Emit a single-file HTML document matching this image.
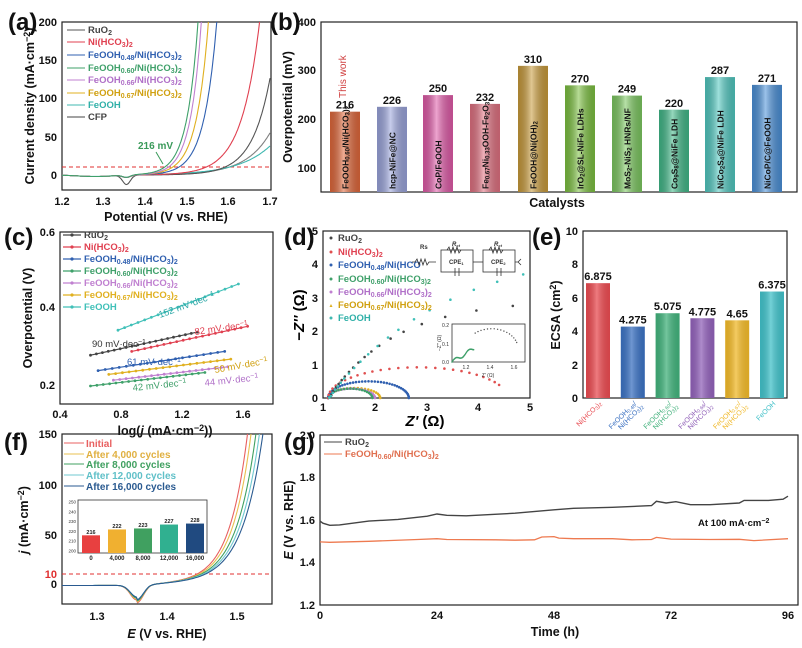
<!DOCTYPE html>
<html><head><meta charset="utf-8">
<style>
html,body{margin:0;padding:0;background:#fff}
svg{display:block;font-family:"Liberation Sans",Arial,sans-serif;font-weight:bold}
.t{font-size:11px;fill:#111}
.lg{font-size:9.5px}
.pl{font-size:24px;fill:#111}
.ax{font-size:12.5px;fill:#111}
</style></head><body>
<svg id="s" width="802" height="648" viewBox="0 0 802 648">
<defs>
<linearGradient id="sh" x1="0" x2="1" y1="0" y2="0">
<stop offset="0" stop-color="#000" stop-opacity="0.15"/><stop offset="0.45" stop-color="#fff" stop-opacity="0.45"/><stop offset="1" stop-color="#000" stop-opacity="0.15"/></linearGradient>
<clipPath id="ca"><rect x="62" y="22" width="209" height="168"/></clipPath>
<clipPath id="cf"><rect x="62" y="434" width="210" height="170"/></clipPath>
</defs>
<!-- panel labels -->
<text class="pl" x="8" y="30">(a)</text>
<text class="pl" x="270" y="30">(b)</text>
<text class="pl" x="4" y="245">(c)</text>
<text class="pl" x="284" y="245">(d)</text>
<text class="pl" x="532" y="245">(e)</text>
<text class="pl" x="4" y="450">(f)</text>
<text class="pl" x="284" y="450">(g)</text>

<!-- (a) -->
<rect x="62" y="22" width="209" height="168" fill="none" stroke="#222" stroke-width="1.2"/>
<g class="t" text-anchor="end"><text x="57" y="26">200</text><text x="57" y="64">150</text><text x="57" y="102">100</text><text x="57" y="141">50</text><text x="57" y="179">0</text></g>
<g class="t" text-anchor="middle"><text x="62" y="205">1.2</text><text x="103" y="205">1.3</text><text x="145" y="205">1.4</text><text x="187" y="205">1.5</text><text x="228" y="205">1.6</text><text x="270" y="205">1.7</text></g>
<text class="ax" x="166" y="221" text-anchor="middle">Potential (V vs. RHE)</text>
<text class="ax" transform="translate(34,106) rotate(-90)" text-anchor="middle">Current density (mA·cm<tspan dy="-4" font-size="9">−2</tspan><tspan dy="4">)</tspan></text>
<line x1="62" y1="167" x2="271" y2="167" stroke="#e03030" stroke-dasharray="4,3" stroke-width="1"/>
<text x="138" y="149" font-size="10" fill="#3a9a5a">216 mV</text>
<line x1="156" y1="152" x2="163" y2="164" stroke="#3a9a5a" stroke-width="1"/>
<g id="ga" clip-path="url(#ca)"></g>
<g class="lg">
<line x1="67" y1="30" x2="85" y2="30" stroke="#555"/><text x="88" y="33" fill="#444">RuO<tspan font-size="7" dy="2">2</tspan></text>
<line x1="67" y1="42" x2="85" y2="42" stroke="#e04050"/><text x="88" y="45" fill="#e04050">Ni(HCO<tspan font-size="7" dy="2">3</tspan><tspan dy="-2">)</tspan><tspan font-size="7" dy="2">2</tspan></text>
<line x1="67" y1="55" x2="85" y2="55" stroke="#3060b0"/><text x="88" y="58" fill="#3060b0">FeOOH<tspan font-size="7" dy="2">0.48</tspan><tspan dy="-2">/Ni(HCO</tspan><tspan font-size="7" dy="2">3</tspan><tspan dy="-2">)</tspan><tspan font-size="7" dy="2">2</tspan></text>
<line x1="67" y1="68" x2="85" y2="68" stroke="#3fa06a"/><text x="88" y="71" fill="#3fa06a">FeOOH<tspan font-size="7" dy="2">0.60</tspan><tspan dy="-2">/Ni(HCO</tspan><tspan font-size="7" dy="2">3</tspan><tspan dy="-2">)</tspan><tspan font-size="7" dy="2">2</tspan></text>
<line x1="67" y1="80" x2="85" y2="80" stroke="#c080d0"/><text x="88" y="83" fill="#b070c8">FeOOH<tspan font-size="7" dy="2">0.66</tspan><tspan dy="-2">/Ni(HCO</tspan><tspan font-size="7" dy="2">3</tspan><tspan dy="-2">)</tspan><tspan font-size="7" dy="2">2</tspan></text>
<line x1="67" y1="93" x2="85" y2="93" stroke="#e0b020"/><text x="88" y="96" fill="#d0a010">FeOOH<tspan font-size="7" dy="2">0.67</tspan><tspan dy="-2">/Ni(HCO</tspan><tspan font-size="7" dy="2">3</tspan><tspan dy="-2">)</tspan><tspan font-size="7" dy="2">2</tspan></text>
<line x1="67" y1="105" x2="85" y2="105" stroke="#40b8b0"/><text x="88" y="108" fill="#30b0a8">FeOOH</text>
<line x1="67" y1="117" x2="85" y2="117" stroke="#444"/><text x="88" y="120" fill="#444">CFP</text>
</g>

<!-- (b) -->
<rect x="321" y="22" width="476" height="170" fill="none" stroke="#222" stroke-width="1.2"/>
<g class="t" text-anchor="end"><text x="316" y="26">400</text><text x="316" y="74">300</text><text x="316" y="123">200</text><text x="316" y="172">100</text></g>
<text class="ax" transform="translate(292,107) rotate(-90)" text-anchor="middle">Overpotential (mV)</text>
<text class="ax" x="557" y="207" text-anchor="middle">Catalysts</text>
<g id="gb"></g>
<text transform="translate(346,98) rotate(-90)" font-size="10" fill="#d04040" font-weight="normal">This work</text>

<!-- (c) -->
<rect x="60" y="232" width="213" height="172" fill="none" stroke="#222" stroke-width="1.2"/>
<g class="t" text-anchor="end"><text x="55" y="236">0.6</text><text x="55" y="311">0.4</text><text x="55" y="389">0.2</text></g>
<g class="t" text-anchor="middle"><text x="60" y="418">0.4</text><text x="121" y="418">0.8</text><text x="182" y="418">1.2</text><text x="243" y="418">1.6</text></g>
<text class="ax" x="165" y="435" text-anchor="middle">log(<tspan font-style="italic">j</tspan> (mA·cm<tspan dy="-4" font-size="9">−2</tspan><tspan dy="4">))</tspan></text>
<text class="ax" transform="translate(32,318) rotate(-90)" text-anchor="middle">Overpotential (V)</text>
<g id="gc"></g>
<g font-size="9.5" font-weight="normal">
<text x="92" y="347" fill="#333">90 mV·dec<tspan dy="-3" font-size="7">−1</tspan></text>
<text x="195" y="335" fill="#e04050" transform="rotate(-8 195 335)">82 mV·dec<tspan dy="-3" font-size="7">−1</tspan></text>
<text x="160" y="318" fill="#30a8a8" transform="rotate(-20 160 318)">152 mV·dec<tspan dy="-3" font-size="7">−1</tspan></text>
<text x="127" y="365" fill="#3060b0">61 mV·dec<tspan dy="-3" font-size="7">−1</tspan></text>
<text x="215" y="373" fill="#d0a010" transform="rotate(-10 215 373)">50 mV·dec<tspan dy="-3" font-size="7">−1</tspan></text>
<text x="205" y="386" fill="#b070c8" transform="rotate(-6 205 386)">44 mV·dec<tspan dy="-3" font-size="7">−1</tspan></text>
<text x="133" y="391" fill="#3fa06a" transform="rotate(-6 133 391)">42 mV·dec<tspan dy="-3" font-size="7">−1</tspan></text>
</g>

<!-- (d) -->
<rect x="323" y="231" width="207" height="167" fill="none" stroke="#222" stroke-width="1.2"/>
<g class="t" text-anchor="end"><text x="318" y="235">5</text><text x="318" y="268">4</text><text x="318" y="302">3</text><text x="318" y="335">2</text><text x="318" y="369">1</text><text x="318" y="402">0</text></g>
<g class="t" text-anchor="middle"><text x="323" y="411">1</text><text x="375" y="411">2</text><text x="427" y="411">3</text><text x="478" y="411">4</text><text x="530" y="411">5</text></g>
<text x="425" y="426" font-size="15" text-anchor="middle"><tspan font-style="italic">Z'</tspan> (Ω)</text>
<text transform="translate(304,315) rotate(-90)" font-size="15" text-anchor="middle">−<tspan font-style="italic">Z''</tspan> (Ω)</text>
<g id="gd"></g>
<g class="lg">
<circle cx="331" cy="238" r="1.5" fill="#444"/><text x="338" y="241" fill="#444">RuO<tspan font-size="7" dy="2">2</tspan></text>
<circle cx="331" cy="252" r="1.5" fill="#e05050"/><text x="338" y="255" fill="#e04050">Ni(HCO<tspan font-size="7" dy="2">3</tspan><tspan dy="-2">)</tspan><tspan font-size="7" dy="2">2</tspan></text>
<circle cx="331" cy="265" r="1.5" fill="#3060b0"/><text x="338" y="268" fill="#3060b0">FeOOH<tspan font-size="7" dy="2">0.48</tspan><tspan dy="-2">/Ni(HCO</tspan></text>
<circle cx="331" cy="279" r="1.5" fill="#3fa06a"/><text x="338" y="282" fill="#3fa06a">FeOOH<tspan font-size="7" dy="2">0.60</tspan><tspan dy="-2">/Ni(HCO</tspan><tspan font-size="7" dy="2">3)2</tspan></text>
<circle cx="331" cy="292" r="1.5" fill="#c080d0"/><text x="338" y="295" fill="#b070c8">FeOOH<tspan font-size="7" dy="2">0.66</tspan><tspan dy="-2">/Ni(HCO</tspan><tspan font-size="7" dy="2">3</tspan><tspan dy="-2">)</tspan><tspan font-size="7" dy="2">2</tspan></text>
<path d="M329.5,307 l1.5,-3 l1.5,3z" fill="#e0b020"/><text x="338" y="308" fill="#d0a010">FeOOH<tspan font-size="7" dy="2">0.67</tspan><tspan dy="-2">/Ni(HCO</tspan><tspan font-size="7" dy="2">3</tspan><tspan dy="-2">)</tspan><tspan font-size="7" dy="2">2</tspan></text>
<circle cx="331" cy="318" r="1.5" fill="#40b8b0"/><text x="338" y="321" fill="#30b0a8">FeOOH</text>
</g>
<!-- circuit -->
<g stroke="#333" stroke-width="0.8" fill="none">
<path d="M412,262 h3 l2,-3 l2,6 l2,-6 l2,6 l2,-6 l2,6 l2,-3 h7"/>
<rect x="441" y="250" width="32" height="22"/>
<path d="M447,250 l2,-3 l2,6 l2,-6 l2,6 l2,-6 l2,6 l2,-3"/>
<path d="M455,268 v8 M459,268 v8"/>
<path d="M473,262 h10"/>
<rect x="483" y="250" width="32" height="22"/>
<path d="M489,250 l2,-3 l2,6 l2,-6 l2,6 l2,-6 l2,6 l2,-3"/>
<path d="M497,268 v8 M501,268 v8"/>
<path d="M515,262 h3 l3,-3 M518,262 l3,3"/>
</g>
<g font-size="6" fill="#333"><text x="420" y="249">Rs</text><text x="452" y="246" font-style="italic">R<tspan font-size="4" dy="1">ct</tspan></text><text x="494" y="246" font-style="italic">R<tspan font-size="4" dy="1">ct</tspan></text><text x="449" y="264">CPE<tspan font-size="4" dy="1">1</tspan></text><text x="491" y="264">CPE<tspan font-size="4" dy="1">2</tspan></text></g>
<!-- inset d -->
<rect x="452" y="324" width="73" height="38" fill="#fff" stroke="#333" stroke-width="0.8"/>
<g font-size="5" fill="#333" font-weight="normal"><text x="449" y="327" text-anchor="end">0.2</text><text x="449" y="346" text-anchor="end">0.1</text><text x="449" y="364" text-anchor="end">0.0</text>
<text x="466" y="369" text-anchor="middle">1.2</text><text x="490" y="369" text-anchor="middle">1.4</text><text x="514" y="369" text-anchor="middle">1.6</text>
<text x="488" y="377" text-anchor="middle">Z' (Ω)</text><text transform="translate(441,343) rotate(-90)" text-anchor="middle">−Z'' (Ω)</text></g>
<g id="gdi"></g>

<!-- (e) -->
<rect x="583" y="231" width="204" height="167" fill="none" stroke="#222" stroke-width="1.2"/>
<g class="t" text-anchor="end"><text x="578" y="235">10</text><text x="578" y="268">8</text><text x="578" y="302">6</text><text x="578" y="335">4</text><text x="578" y="369">2</text><text x="578" y="402">0</text></g>
<text class="ax" transform="translate(560,315) rotate(-90)" text-anchor="middle">ECSA (cm<tspan dy="-4" font-size="9">2</tspan><tspan dy="4">)</tspan></text>
<g id="ge"></g>

<!-- (f) -->
<rect x="62" y="434" width="210" height="170" fill="none" stroke="#222" stroke-width="1.2"/>
<g class="t" text-anchor="end"><text x="57" y="438">150</text><text x="57" y="489">100</text><text x="57" y="539">50</text><text x="57" y="578" fill="#e03030">10</text><text x="57" y="588">0</text></g>
<g class="t" text-anchor="middle"><text x="97" y="620">1.3</text><text x="167" y="620">1.4</text><text x="237" y="620">1.5</text></g>
<text class="ax" x="167" y="638" text-anchor="middle"><tspan font-style="italic">E</tspan> (V vs. RHE)</text>
<text class="ax" transform="translate(28,520) rotate(-90)" text-anchor="middle"><tspan font-style="italic">j</tspan> (mA·cm<tspan dy="-4" font-size="9">−2</tspan><tspan dy="4">)</tspan></text>
<line x1="62" y1="574" x2="272" y2="574" stroke="#e03030" stroke-dasharray="4,3" stroke-width="1"/>
<g id="gf" clip-path="url(#cf)"></g>
<g font-size="10">
<line x1="64" y1="443" x2="84" y2="443" stroke="#e86060"/><text x="86" y="447" fill="#e86060">Initial</text>
<line x1="64" y1="454" x2="84" y2="454" stroke="#e8c050"/><text x="86" y="458" fill="#e0b040">After 4,000 cycles</text>
<line x1="64" y1="464" x2="84" y2="464" stroke="#40a060"/><text x="86" y="468" fill="#40a060">After 8,000 cycles</text>
<line x1="64" y1="475" x2="84" y2="475" stroke="#70c8d0"/><text x="86" y="479" fill="#60c0c8">After 12,000 cycles</text>
<line x1="64" y1="486" x2="84" y2="486" stroke="#2a5a90"/><text x="86" y="490" fill="#2a5a90">After 16,000 cycles</text>
</g>
<rect x="78" y="500" width="129" height="53" fill="#fff" stroke="#333" stroke-width="0.8"/>
<g id="gfi"></g>

<!-- (g) -->
<rect x="320" y="435" width="478" height="170" fill="none" stroke="#222" stroke-width="1.2"/>
<g class="t" text-anchor="end"><text x="315" y="439">2.0</text><text x="315" y="481">1.8</text><text x="315" y="524">1.6</text><text x="315" y="566">1.4</text><text x="315" y="609">1.2</text></g>
<g class="t" text-anchor="middle"><text x="320" y="619">0</text><text x="437" y="619">24</text><text x="554" y="619">48</text><text x="671" y="619">72</text><text x="788" y="619">96</text></g>
<text class="ax" x="555" y="636" text-anchor="middle">Time (h)</text>
<text class="ax" transform="translate(293,520) rotate(-90)" text-anchor="middle"><tspan font-style="italic">E</tspan> (V vs. RHE)</text>
<g font-size="9.5">
<line x1="324" y1="442" x2="342" y2="442" stroke="#444"/><text x="345" y="445" fill="#444">RuO<tspan font-size="7" dy="2">2</tspan></text>
<line x1="324" y1="454" x2="342" y2="454" stroke="#ee7a50"/><text x="345" y="457" fill="#e07050">FeOOH<tspan font-size="7" dy="2">0.60</tspan><tspan dy="-2">/Ni(HCO</tspan><tspan font-size="7" dy="2">3</tspan><tspan dy="-2">)</tspan><tspan font-size="7" dy="2">2</tspan></text>
<text x="698" y="526" fill="#111">At 100 mA·cm<tspan dy="-3" font-size="7">−2</tspan></text>
</g>
<g id="gg"></g>
</svg>
<script>
function poly(pts,c,w,ex){return '<polyline fill="none" stroke="'+c+'" stroke-width="'+w+'" points="'+pts.map(p=>p[0].toFixed(1)+','+p[1].toFixed(1)).join(' ')+'" '+(ex||'')+'/>';}
function add(id,h){document.getElementById(id).insertAdjacentHTML('beforeend',h);}
// (a)
(function(){
var X=e=>62+(e-1.2)*416,Y=j=>175-j*0.767,h='';
var S=[['#808080',1.6,1.776,-3],['#40b8b0',1.6,1.825,-3],['#555',1.59,1.72,-12],['#e04050',1.545,1.675,-3],['#3060b0',1.48,1.572,-3],['#e0b020',1.465,1.552,-3],['#c080d0',1.455,1.535,-3],['#3fa06a',1.446,1.527,-3]];
S.forEach(s=>{var sc=(s[2]-s[1])/Math.log(20),p=[];for(var e=1.2;e<=1.701;e+=0.002){var j=10*Math.exp((e-s[1])/sc);var b=-2*Math.exp(-Math.pow((e-1.28)/0.06,2))+s[3]*Math.exp(-Math.pow((e-1.355)/0.013,2));j+=b;if(j>210){p.push([X(e),Y(210)]);break;}p.push([X(e),Y(j)]);}h+=poly(p,s[0],1.1);});
add('ga',h);})();
// (b)
(function(){
var v=[216,226,250,232,310,270,249,220,287,271],cx=[345,392,438,485,533,580,627,674,720,767],
col=['#e0673a','#9aa4dc','#e05aa8','#e07080','#c89a3a','#7cc040','#7cc860','#40b888','#50c8c0','#4a90d8'],
lab=['FeOOH<tspan font-size="6" dy="1">0.60</tspan><tspan dy="-1">/Ni(HCO</tspan><tspan font-size="6" dy="1">3</tspan><tspan dy="-1">)</tspan><tspan font-size="6" dy="1">2</tspan>','hcp-NiFe@NC','CoP/FeOOH','Fe<tspan font-size="6" dy="1">0.67</tspan><tspan dy="-1">Ni</tspan><tspan font-size="6" dy="1">0.33</tspan><tspan dy="-1">OOH-Fe</tspan><tspan font-size="6" dy="1">2</tspan><tspan dy="-1">O</tspan><tspan font-size="6" dy="1">3</tspan>','FeOOH@Ni(OH)<tspan font-size="6" dy="1">2</tspan>','IrO<tspan font-size="6" dy="1">2</tspan><tspan dy="-1">@SL-NiFe LDHs</tspan>','MoS<tspan font-size="6" dy="1">2</tspan><tspan dy="-1">-NiS</tspan><tspan font-size="6" dy="1">2</tspan><tspan dy="-1"> HNRs/NF</tspan>','Co<tspan font-size="6" dy="1">9</tspan><tspan dy="-1">S</tspan><tspan font-size="6" dy="1">8</tspan><tspan dy="-1">@NiFe LDH</tspan>','NiCo<tspan font-size="6" dy="1">2</tspan><tspan dy="-1">S</tspan><tspan font-size="6" dy="1">4</tspan><tspan dy="-1">@NiFe LDH</tspan>','NiCoP/C@FeOOH'],h='';
v.forEach((x,i)=>{var t=22+(400-x)*0.4875;h+='<rect x="'+(cx[i]-15)+'" y="'+t+'" width="30" height="'+(192-t)+'" fill="'+col[i]+'"/><rect x="'+(cx[i]-15)+'" y="'+t+'" width="30" height="'+(192-t)+'" fill="url(#sh)"/>';
h+='<text x="'+cx[i]+'" y="'+(t-3)+'" class="t" text-anchor="middle">'+x+'</text>';
h+='<text transform="translate('+(cx[i]+3.5)+',189) rotate(-90)" font-size="8.5" fill="#111">'+lab[i]+'</text>';});
add('gb',h);})();
// (c)
(function(){
var X=v=>60+(v-0.4)*152.5,Y=v=>386-(v-0.2)*385,h='';
var S=[['#444',0.6,0.28,1.3,0.34],['#e04050',0.87,0.29,1.63,0.355],['#3060b0',0.65,0.24,1.48,0.29],['#3fa06a',0.6,0.2,1.35,0.235],['#c080d0',0.75,0.215,1.5,0.25],['#e0b020',0.72,0.23,1.52,0.27],['#40c0b8',0.78,0.345,1.57,0.465]];
S.forEach(s=>{h+=poly([[X(s[1]),Y(s[2])],[X(s[3]),Y(s[4])]],s[0],1.2);for(var k=0;k<=18;k++){var u=k/18;h+='<circle cx="'+X(s[1]+u*(s[3]-s[1])).toFixed(1)+'" cy="'+Y(s[2]+u*(s[4]-s[2])).toFixed(1)+'" r="1.4" fill="'+s[0]+'"/>';}});
var L=[[62,235,'#444'],[62,247,'#e04050'],[62,259,'#3060b0'],[62,271,'#3fa06a'],[62,283,'#c080d0'],[62,295,'#e0b020'],[62,307,'#40c0b8']];
var n=['RuO<tspan font-size="7" dy="2">2</tspan>','Ni(HCO<tspan font-size="7" dy="2">3</tspan><tspan dy="-2">)</tspan><tspan font-size="7" dy="2">2</tspan>'];
['0.48','0.60','0.66','0.67'].forEach(a=>n.push('FeOOH<tspan font-size="7" dy="2">'+a+'</tspan><tspan dy="-2">/Ni(HCO</tspan><tspan font-size="7" dy="2">3</tspan><tspan dy="-2">)</tspan><tspan font-size="7" dy="2">2</tspan>'));n.push('FeOOH');
L.forEach((l,i)=>{h+='<line x1="63" y1="'+l[1]+'" x2="81" y2="'+l[1]+'" stroke="'+l[2]+'" stroke-width="1.2"/><circle cx="72" cy="'+l[1]+'" r="1.6" fill="'+l[2]+'"/><text x="84" y="'+(l[1]+3)+'" class="lg" fill="'+l[2]+'">'+n[i]+'</text>';});
add('gc',h);})();
// (d)
(function(){
var X=z=>323+(z-1)*52,Y=z=>398-z*33.4,h='';
function dot(x,y,c){return '<circle cx="'+X(x).toFixed(1)+'" cy="'+Y(y).toFixed(1)+'" r="1.3" fill="'+c+'"/>';}
function semi(a,b,hh,c,n,tend){var cc=(a+b)/2,r=(b-a)/2;for(var k=0;k<=n;k++){var t=k/n*tend;h+=dot(cc-r*Math.cos(t),hh*Math.sin(t),c);}}
semi(1.1,2.1,0.3,'#e0b020',22,Math.PI);semi(1.1,2.0,0.28,'#c080d0',22,Math.PI);semi(1.1,1.95,0.28,'#3fa06a',22,Math.PI);
semi(1.1,2.65,0.5,'#3060b0',40,Math.PI);semi(1.1,4.55,0.92,'#e05050',26,Math.PI*0.86);
var xs=[1.12,1.16,1.2,1.25,1.3,1.36,1.42,1.5,1.58,1.68,1.8,1.93,2.08,2.3,2.55,2.9,3.35,3.95,4.65];
xs.forEach(x=>h+=dot(x,2.95*(1-Math.exp(-(x-1.1)/1.3))*Math.min(1,(x-1.08)*8),'#444'));
var xc=[1.12,1.15,1.19,1.23,1.28,1.34,1.41,1.5,1.6,1.72,1.87,2.05,2.25,2.45,2.75,3.05,3.45,3.9,4.35,4.85];
xc.forEach(x=>h+=dot(x,4.6*(1-Math.exp(-(x-1.1)/2.3))*Math.min(1,(x-1.08)*8),'#40c0b8'));
add('gd',h);
// inset
var IX=z=>452+(z-1.1)*120,IY=z=>362-z*190,g='';
for(var k=0;k<=30;k++){var z=1.1+k*0.006;g+='<circle cx="'+IX(z).toFixed(1)+'" cy="'+IY(0.07*(k/30)+0.01*Math.sin(k/3)).toFixed(1)+'" r="0.8" fill="#3fa06a"/>';}
for(var k=0;k<=22;k++){var t=k/22*Math.PI*0.9,z=1.43-0.22*Math.cos(t)+0.0;var y=0.07+0.105*Math.sin(t);if(z<1.28)continue;g+='<circle cx="'+IX(z).toFixed(1)+'" cy="'+IY(y).toFixed(1)+'" r="0.7" fill="#555"/>';}
add('gdi',g);})();
// (e)
(function(){
var v=['6.875','4.275','5.075','4.775','4.65','6.375'],col=['#e84a50','#3a70c0','#40b07a','#9060b8','#f0b828','#40c0c8'],h='';
var lab=[['Ni(HCO<tspan font-size="5" dy="1">3</tspan><tspan dy="-1">)</tspan><tspan font-size="5" dy="1">2</tspan>'],['FeOOH<tspan font-size="5" dy="1">0.48</tspan><tspan dy="-1">/</tspan>','Ni(HCO<tspan font-size="5" dy="1">3</tspan><tspan dy="-1">)</tspan><tspan font-size="5" dy="1">2</tspan>'],['FeOOH<tspan font-size="5" dy="1">0.60</tspan><tspan dy="-1">/</tspan>','Ni(HCO<tspan font-size="5" dy="1">3</tspan><tspan dy="-1">)</tspan><tspan font-size="5" dy="1">2</tspan>'],['FeOOH<tspan font-size="5" dy="1">0.66</tspan><tspan dy="-1">/</tspan>','Ni(HCO<tspan font-size="5" dy="1">3</tspan><tspan dy="-1">)</tspan><tspan font-size="5" dy="1">2</tspan>'],['FeOOH<tspan font-size="5" dy="1">0.67</tspan><tspan dy="-1">/</tspan>','Ni(HCO<tspan font-size="5" dy="1">3</tspan><tspan dy="-1">)</tspan><tspan font-size="5" dy="1">2</tspan>'],['FeOOH']];
v.forEach((x,i)=>{var c=598+i*34.8,t=398-parseFloat(x)*16.7;
h+='<rect x="'+(c-12)+'" y="'+t+'" width="24" height="'+(398-t)+'" fill="'+col[i]+'"/><rect x="'+(c-12)+'" y="'+t+'" width="24" height="'+(398-t)+'" fill="url(#sh)" opacity="0.6"/>';
h+='<text x="'+c+'" y="'+(t-3)+'" class="t" text-anchor="middle">'+x+'</text>';
lab[i].forEach((L,k)=>{h+='<text transform="translate('+(c+4+k*7)+','+(404+k*3)+') rotate(-45)" text-anchor="end" font-size="7" font-weight="normal" fill="'+col[i]+'">'+L+'</text>';});});
add('ge',h);})();
// (f)
(function(){
var X=e=>62+(e-1.25)*700,Y=j=>584-j,h='';
var S=[['#e86060',1.443,1.515,-15],['#e8c050',1.446,1.52,-14],['#40a060',1.449,1.527,-13],['#70c8d0',1.452,1.532,-12],['#2a5a90',1.455,1.537,-12]];
S.forEach(s=>{var sc=(s[2]-s[1])/Math.log(15),p=[];for(var e=1.25;e<=1.56;e+=0.002){var j=10*Math.exp((e-s[1])/sc)-1.5*(1/(1+Math.exp((e-1.39)/0.012)))+s[3]*Math.exp(-Math.pow((e-1.357)/0.013,2))*(e<1.357?1:1)+ (e>1.357&&e<1.375? -3*(1.375-e)/0.018:0);if(j>160){p.push([X(e),Y(160)]);break;}p.push([X(e),Y(j)]);}h+=poly(p,s[0],1.1);});
add('gf',h);
// inset bars
var IY=v=>551-(v-200)*0.98,g='';
g+='<g font-size="4.5" fill="#333" font-weight="normal" text-anchor="end">';for(var v=200;v<=250;v+=10)g+='<text x="76" y="'+(IY(v)+1.5)+'">'+v+'</text>';g+='</g>';
var vals=[216,222,223,227,228],cl=['#e84040','#f0b030','#40a060','#30b090','#204a80'],lb=['0','4,000','8,000','12,000','16,000'];
vals.forEach((v,i)=>{var c=91+i*26,t=IY(v);g+='<rect x="'+(c-9)+'" y="'+t+'" width="18" height="'+(553-t)+'" fill="'+cl[i]+'"/><text x="'+c+'" y="'+(t-1.5)+'" font-size="5.5" text-anchor="middle" fill="#222">'+v+'</text><text x="'+c+'" y="560" font-size="6" text-anchor="middle" fill="#222">'+lb[i]+'</text>';});
add('gfi',g);})();
// (g)
(function(){
var X=t=>320+t*4.875,Y=v=>605-(v-1.2)*212.5;
var R=[[0,1.595],[0.6,1.585],[2,1.575],[4,1.577],[10,1.595],[16,1.603],[22,1.618],[24,1.628],[26,1.622],[30,1.62],[40,1.632],[48,1.648],[52,1.655],[60,1.66],[68,1.668],[69,1.688],[71,1.68],[73,1.686],[76,1.672],[80,1.672],[86,1.68],[87,1.692],[92,1.692],[95,1.698],[96,1.712]];
var O=[[0,1.497],[2,1.495],[10,1.5],[20,1.508],[24,1.512],[26,1.508],[36,1.507],[40,1.505],[44,1.507],[45.5,1.52],[48,1.522],[49,1.515],[52,1.512],[60,1.512],[64,1.507],[68,1.508],[69,1.518],[72,1.51],[80,1.508],[86,1.509],[89,1.503],[96,1.512]];
var h=poly(R.map(p=>[X(p[0]),Y(p[1])]),'#444',1.4)+poly(O.map(p=>[X(p[0]),Y(p[1])]),'#ee7a50',1.3);
add('gg',h);})();
</script>
</body></html>
